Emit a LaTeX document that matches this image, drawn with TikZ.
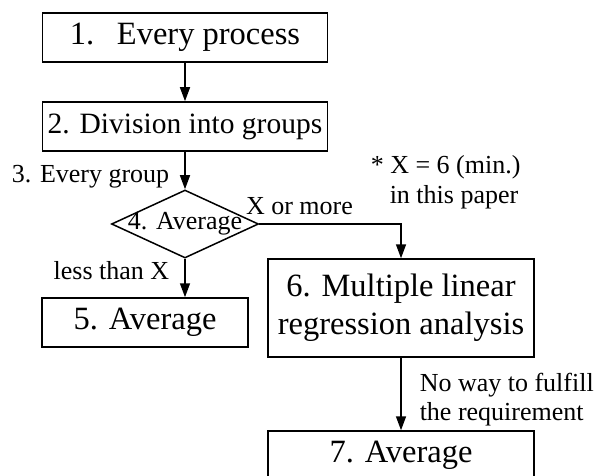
\documentclass[tikz,border=0pt]{standalone}
\usepackage{fontspec}
\setmainfont{Liberation Serif}
\usetikzlibrary{shapes.geometric,arrows.meta}

\begin{document}
\begin{tikzpicture}[x=1pt,y=-1pt,line width=1.5pt,
  proc/.style={draw,rectangle,inner sep=0pt,minimum height=49pt,font=\fontsize{32.5}{38}\selectfont},
  decision/.style={draw,diamond,inner sep=0pt,minimum width=147pt,minimum height=68pt,font=\fontsize{26}{29}\selectfont},
  lbl/.style={inner sep=0pt,font=\fontsize{26}{29}\selectfont},
  arr/.style={-{Stealth[inset=0pt,length=14pt,width=10pt]}}]
\useasboundingbox (0,0) rectangle (602,476);
\node[proc,minimum width=285pt] (b1) at (185,37.5) {1.\hspace{0.7em}Every process};
\node[proc,minimum width=285pt,font=\fontsize{29.5}{35}\selectfont] (b2) at (185,126.5) {2. Division into groups};
\node[decision] (d4) at (185,224) {\makebox[0pt]{4. Average}};
\node[proc,minimum width=206pt] (b5) at (145,322.5) {5. Average};
\node[proc,minimum width=266pt,minimum height=98pt,align=center] (b6) at (401,308) {6. Multiple linear\\regression analysis};
\node[proc,minimum width=266pt] (b7) at (401,455.5) {7. Average};
%\node[lbl] at (300,450) {};
\node[lbl,anchor=base west] (note1) at (370,173) {* X = 6 (min.)};
\node[lbl,anchor=base west] (note2) at (389,203) {in this paper};
\path[arr]
(b1) edge (b2)
(b2) edge node[lbl,pos=0.82,anchor=base east,xshift=-15pt] {3. Every group} (d4)
(d4) edge node[lbl,pos=0.55,anchor=base east,xshift=-15pt] {less than X} (d4.south |- b5.north)
(b6) edge node[lbl,pos=0.58,anchor=west,xshift=18pt,align=left] {No way to fulfill\\the requirement} (b7);
\draw[arr] (d4.east) -| node[lbl,pos=0,anchor=base west,xshift=-14pt,yshift=10pt] {X or more} (b6.north);
\end{tikzpicture}
\end{document}
